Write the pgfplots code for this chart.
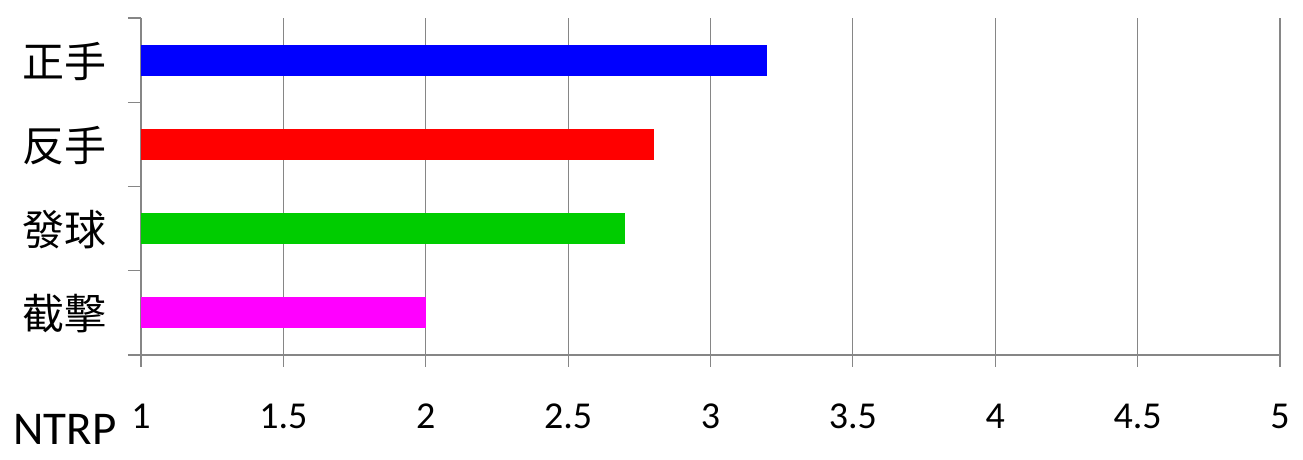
\documentclass[border=0pt]{standalone}
\usepackage{fontspec}
\setmainfont{Carlito}
\newfontfamily\cjk{Noto Sans CJK TC}
\usepackage{pgfplots}
\pgfplotsset{compat=1.18}
\definecolor{gridgray}{RGB}{134,134,134}
\definecolor{barblue}{RGB}{0,0,255}
\definecolor{barred}{RGB}{255,0,0}
\definecolor{bargreen}{RGB}{0,204,0}
\definecolor{barmag}{RGB}{255,0,255}
\begin{document}
\begin{tikzpicture}
\begin{axis}[
  scale only axis,
  width=569.5pt, height=168.5pt,
  xmin=1, xmax=5,
  ymin=-0.5, ymax=3.5,
  xtick={1,1.5,2,2.5,3,3.5,4,4.5,5},
  xticklabels={1,1.5,2,2.5,3,3.5,4,4.5,5},
  ytick={0,1,2,3},
  yticklabels={截擊,發球,反手,正手},
  minor ytick={-0.5,0.5,1.5,2.5,3.5},
  major y tick style={draw=none},
  minor y tick style={draw=gridgray, line width=0.6pt},
  x tick style={draw=gridgray, line width=0.6pt},
  tick align=outside,
  major tick length=6pt,
  minor tick length=6.5pt,
  xmajorgrids,
  major x grid style={gridgray, line width=0.6pt},
  axis x line*=bottom,
  axis y line*=left,
  axis line style={gridgray, line width=0.6pt, -},
  xbar,
  bar width=15.5pt,
  bar shift=0pt,
  /pgf/number format/assume math mode=true,
  xticklabel style={font=\fontsize{19}{22}\selectfont, yshift=-15pt},
  yticklabel style={font=\cjk\fontsize{21}{24}\selectfont, xshift=-7.5pt, yshift=-0.5pt},
  clip mode=individual,
]
\addplot[draw=none, fill=barmag] coordinates {(2.0,0)};
\addplot[draw=none, fill=bargreen] coordinates {(2.7,1)};
\addplot[draw=none, fill=barred] coordinates {(2.8,2)};
\addplot[draw=none, fill=barblue] coordinates {(3.2,3)};
\node[anchor=base east, inner sep=0pt, font=\fontsize{23.5}{27}\selectfont, xshift=-12pt, yshift=-45pt] at (rel axis cs:0,0) {NTRP};
\end{axis}
\path[use as bounding box] (-70.5pt,-52.5pt) rectangle (581pt,177.5pt);
\end{tikzpicture}
\end{document}
